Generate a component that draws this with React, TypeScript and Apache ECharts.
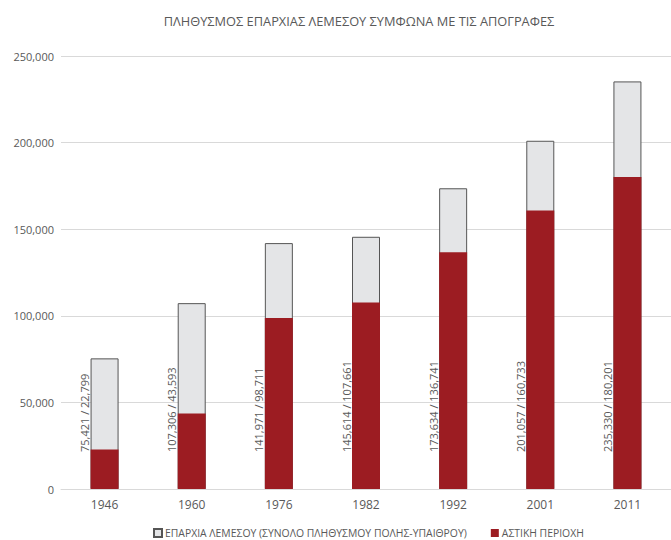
import React, { useEffect, useRef } from "react";
import * as echarts from "echarts";

const years = ["1946", "1960", "1976", "1982", "1992", "2001", "2011"];
const totalPop = [75421, 107306, 141971, 145614, 173634, 201057, 235330];
const urbanPop = [22799, 43593, 98711, 107661, 136741, 160733, 180201];
const yTicks = { min: 0, max: 250000, interval: 50000 };
const titleText = "ΠΛΗΘΥΣΜΟΣ ΕΠΑΡΧΙΑΣ ΛΕΜΕΣΟΥ ΣΥΜΦΩΝΑ ΜΕ ΤΙΣ ΑΠΟΓΡΑΦΕΣ";
const totalName = "ΕΠΑΡΧΙΑ ΛΕΜΕΣΟΥ (ΣΥΝΟΛΟ ΠΛΗΘΥΣΜΟΥ ΠΟΛΗΣ-ΥΠΑΙΘΡΟΥ)";
const urbanName = "ΑΣΤΙΚΗ ΠΕΡΙΟΧΗ";

const fmt = (v: number) => v.toLocaleString("en-US");
const FONT = "'Open Sans', 'Noto Sans', sans-serif";
const GREY_TEXT = "#595959";

export default function App() {
  const ref = useRef<HTMLDivElement>(null);
  useEffect(() => {
    if (!ref.current) return;
    document.body.style.margin = "0";
    const chart = echarts.init(ref.current, undefined, { renderer: "svg" });
    chart.setOption({
      animation: false,
      textStyle: { fontFamily: FONT },
      title: {
        text: titleText,
        left: 354,
        textAlign: "center",
        top: 9,
        textStyle: { fontSize: 12.8, fontWeight: "normal", color: GREY_TEXT, fontFamily: FONT },
      },
      legend: {
        top: 523,
        left: 148,
        itemWidth: 8,
        itemHeight: 8,
        itemGap: 24,
        icon: "rect",
        textStyle: { fontSize: 10.4, color: GREY_TEXT, fontFamily: FONT, padding: [0, 0, 0, -2] },
        data: [totalName, urbanName],
      },
      grid: { left: 61, width: 617, top: 56, bottom: 51, containLabel: false },
      xAxis: {
        type: "category",
        data: years,
        axisLine: { lineStyle: { color: "#d9d9d9" } },
        axisTick: { show: false },
        axisLabel: { color: GREY_TEXT, fontSize: 12, margin: 9, fontFamily: FONT },
      },
      yAxis: {
        type: "value",
        min: yTicks.min,
        max: yTicks.max,
        interval: yTicks.interval,
        axisLine: { show: false },
        axisTick: { show: false },
        splitLine: { lineStyle: { color: "#d9d9d9" } },
        axisLabel: {
          color: GREY_TEXT,
          fontSize: 11,
          margin: 7,
          fontFamily: FONT,
          formatter: (v: number) => fmt(v),
        },
      },
      series: [
        {
          name: totalName,
          type: "bar",
          data: totalPop,
          barWidth: 28,
          itemStyle: { color: "#e4e5e7", borderColor: "#555555", borderWidth: 1 },
        },
        {
          name: urbanName,
          type: "bar",
          data: urbanPop,
          barWidth: 28,
          barGap: "-100%",
          itemStyle: { color: "#9c1c22" },
          label: {
            show: true,
            position: "insideBottom",
            distance: 37,
            rotate: 90,
            align: "left",
            verticalAlign: "middle",
            offset: [0, -20],
            fontSize: 11,
            color: GREY_TEXT,
            fontFamily: FONT,
            formatter: (p: any) => `${fmt(totalPop[p.dataIndex])} / ${fmt(urbanPop[p.dataIndex])}`,
          },
        },
      ],
    });
    return () => chart.dispose();
  }, []);
  return <div ref={ref} style={{ width: 671, height: 540 }} />;
}
